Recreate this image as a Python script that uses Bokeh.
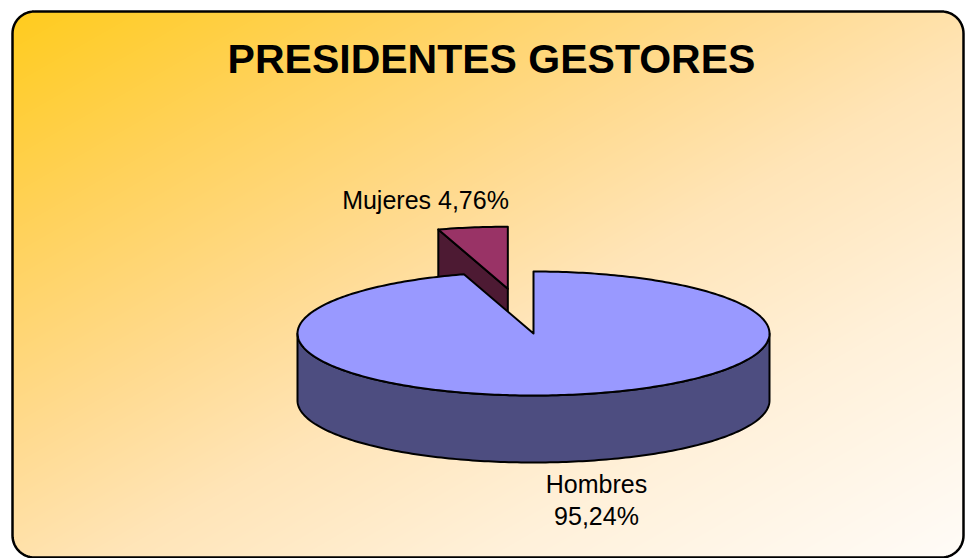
import numpy as np
from bokeh.plotting import figure
from bokeh.models import Range1d
from bokeh.core.properties import value
from bokeh.embed import file_html
from bokeh.resources import INLINE

# ---------------- data ----------------
title_text = "PRESIDENTES GESTORES"
categories = ["Hombres", "Mujeres"]
percentages = [95.24, 4.76]
top_colors = ["#9999FF", "#993366"]
side_colors = ["#4D4D80", "#4D1A33"]
explode = [0.0, 0.73]

# ---------------- layout ----------------
W, H = 965, 558
FX0, FX1, FY0, FY1, FR = 12, 963, 1, 547, 22     # rounded frame (data coords, y up)
CX, CY, RA, RB, DEPTH = 533, 225, 236, 62, 67    # pie geometry
START = 90.0
FONT = "Liberation Sans"

p = figure(width=W, height=H, output_backend="svg", toolbar_location=None,
           x_range=Range1d(0, W), y_range=Range1d(0, H),
           x_axis_type=None, y_axis_type=None, min_border=0)
p.grid.visible = False
p.outline_line_color = None
p.background_fill_color = "white"
p.border_fill_color = "white"

# ---------------- gradient background ----------------
Xs = np.arange(W) + 0.5
Ys = np.arange(H) + 0.5
X, Y = np.meshgrid(Xs, Ys)
u = (X - FX0) / (FX1 - FX0)
v = (FY1 - Y) / (FY1 - FY0)
t = np.clip((u + v) / 2.0, 0, 1)
stops_t = [0.0, 0.2, 0.4, 0.55, 0.75, 1.0]
stops_g = [204, 210, 219, 229, 241, 252]
stops_b = [30, 90, 145, 184, 218, 248]
G = np.interp(t, stops_t, stops_g)
B = np.interp(t, stops_t, stops_b)
dx = np.maximum(np.maximum(FX0 + FR - X, 0), X - (FX1 - FR))
dy = np.maximum(np.maximum(FY0 + FR - Y, 0), Y - (FY1 - FR))
inside = (dx ** 2 + dy ** 2) <= FR ** 2
img = np.zeros((H, W), dtype=np.uint32)
view = img.view(dtype=np.uint8).reshape((H, W, 4))
view[..., 0] = 255
view[..., 1] = G.astype(np.uint8)
view[..., 2] = B.astype(np.uint8)
view[..., 3] = np.where(inside, 255, 0).astype(np.uint8)
p.image_rgba(image=[img], x=0, y=0, dw=W, dh=H)


# ---------------- pie ----------------
def proj(theta_deg, ox=0.0, oy=0.0, dz=0.0):
    th = np.radians(theta_deg)
    return CX + ox + RA * np.cos(th), CY + oy + RB * np.sin(th) - dz


def arc(t1, t2, ox, oy, dz=0.0, n=None):
    if n is None:
        n = max(2, int(abs(t2 - t1) / 1.0) + 1)
    ths = np.linspace(t1, t2, n)
    xs, ys = proj(ths, ox, oy, dz)
    return list(xs), list(ys)


fr = np.array(percentages) / sum(percentages)
cum = np.concatenate([[0], np.cumsum(fr)])
slices = []
for i in range(len(categories)):
    t2 = START - cum[i] * 360.0
    t1 = START - cum[i + 1] * 360.0
    mid = (t1 + t2) / 2.0
    ox = explode[i] * RA * np.cos(np.radians(mid))
    oy = explode[i] * RB * np.sin(np.radians(mid))
    slices.append(dict(i=i, t1=t1, t2=t2, mid=mid, ox=ox, oy=oy,
                       depth_key=oy + RB * np.sin(np.radians(mid))))

slices.sort(key=lambda s: -s["depth_key"])

LW = 2
for s in slices:
    i, t1, t2, ox, oy = s["i"], s["t1"], s["t2"], s["ox"], s["oy"]
    ax, ay = CX + ox, CY + oy
    # radial faces
    for edge, normal in ((t1, t1 - 90.0), (t2, t2 + 90.0)):
        if np.sin(np.radians(normal)) < -1e-6:
            ex, ey = proj(edge, ox, oy)
            xs = [ax, ex, ex, ax]
            ys = [ay, ey, ey - DEPTH, ay - DEPTH]
            p.patch(xs, ys, fill_color=side_colors[i], line_color="black",
                    line_width=LW, line_join="round")
    # outer wall (front half only)
    for k in range(-2, 3):
        lo = max(t1, 180.0 + 360.0 * k)
        hi = min(t2, 360.0 + 360.0 * k)
        if hi > lo:
            xt, yt = arc(lo, hi, ox, oy)
            xb, yb = arc(hi, lo, ox, oy, DEPTH)
            p.patch(xt + xb, yt + yb, fill_color=side_colors[i], line_color="black",
                    line_width=LW, line_join="round")
    # top face
    xt, yt = arc(t1, t2, ox, oy)
    p.patch([ax] + xt, [ay] + yt, fill_color=top_colors[i], line_color="black",
            line_width=LW, line_join="round")

# ---------------- labels ----------------
label_lines = []
for c, pc in zip(categories, percentages):
    label_lines.append((c, f"{pc:.2f}%".replace(".", ",")))
LABEL_POS = [(596, 75, True), (425, 359, False)]   # centre x, first baseline y, two lines?
lx, ly, lt = [], [], []
for (name, pct), (x, y, two) in zip(label_lines, LABEL_POS):
    if two:
        lx += [x, x]
        ly += [y, y - 32]
        lt += [name, pct]
    else:
        lx.append(x)
        ly.append(y)
        lt.append(f"{name} {pct}")
p.text(x=lx, y=ly, text=lt, text_align="center", text_baseline="alphabetic",
       text_font=value(FONT), text_font_size="25px", text_color="black")

# ---------------- title ----------------
p.text(x=[491], y=[500], text=[title_text], text_align="center",
       text_baseline="alphabetic", text_font=value(FONT), text_font_style="bold",
       text_font_size="41px", text_color="black")

# ---------------- frame ----------------
def rounded_rect(x0, y0, x1, y1, r, n=16):
    xs, ys = [], []
    corners = [((x0 + r, y1 - r), 90, 180), ((x0 + r, y0 + r), 180, 270),
               ((x1 - r, y0 + r), 270, 360), ((x1 - r, y1 - r), 0, 90)]
    for (cx, cy), a0, a1 in corners:
        th = np.radians(np.linspace(a0, a1, n))
        xs += list(cx + r * np.cos(th))
        ys += list(cy + r * np.sin(th))
    xs.append(xs[0])
    ys.append(ys[0])
    return xs, ys


bx, by = rounded_rect(FX0, FY0, FX1, FY1, FR)
p.line(bx, by, line_color="black", line_width=2.5, line_join="round")

open("out.html", "w").write(file_html(p, INLINE))
